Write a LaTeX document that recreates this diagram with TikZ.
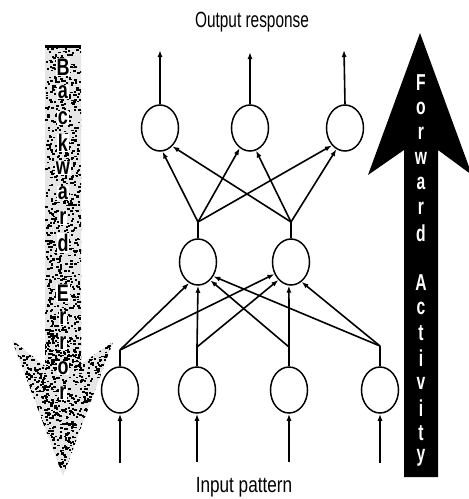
\documentclass[tikz,border=0pt]{standalone}
\usepackage{fontspec}
\setmainfont{Liberation Sans}
\usepackage{graphicx}
\usetikzlibrary{shapes.geometric,arrows.meta}
\begin{document}
\begin{tikzpicture}[x=1pt,y=-1pt,
  neuron/.style={ellipse,draw,line width=1.5pt,minimum width=37pt,minimum height=46pt,inner sep=0pt},
  link/.style={line width=1.6pt},
  arr/.style={line width=1.6pt,-{Latex[length=7pt,width=5pt]}},
  fwd/.style={text=white,font=\bfseries\fontsize{23}{23}\selectfont,inner sep=0pt},
  bwd/.style={text=black,font=\bfseries\fontsize{24}{24}\selectfont,inner sep=0.8pt,fill=white},
  lbl/.style={font=\fontsize{22}{22}\selectfont,inner sep=0pt}
]
\useasboundingbox (0,0) rectangle (469,499);

% Backward Error arrow (speckled)
\begin{scope}
  \clip (45,45) -- (81,45) -- (81,364) -- (113,342) -- (63,476) -- (12,340) -- (45,366) -- cycle;
  \fill[gray!20] (0,0) rectangle (469,499);
  \pgfmathsetseed{7}
  \foreach \i in {1,...,850}{
    \pgfmathsetmacro\px{45+36*rnd}\pgfmathsetmacro\py{45+325*rnd}
    \fill (\px,\py) rectangle ++(2.4,1.8);}
  \foreach \i in {1,...,1200}{
    \pgfmathsetmacro\px{12+101*rnd}\pgfmathsetmacro\py{335+141*rnd}
    \fill (\px,\py) rectangle ++(2.4,1.8);}
  \fill (45,45) rectangle (81,48);
\end{scope}
\foreach \l/\yy [count=\k] in {B/67,a/92,c/118,k/143,w/168,a/193,r/218,d/243,E/293,r/318,r/343,o/368,r/393}
  \node[bwd] (b\k) at (63,\yy) {\scalebox{0.75}[1]{\l}};

% Forward Activity arrow (black)
\begin{scope}
  \clip (0,0) rectangle (469,499);
  \fill (420,33) -- (472,175) -- (438,150) -- (438,477) -- (404,477) -- (404,150) -- (368,175) -- cycle;
\end{scope}
\foreach \l/\yy [count=\k] in {F/83,o/108,r/133,w/158,a/183,r/208,d/233,A/283,c/308,t/333,i/358,v/383,i/408,t/433,y/458}
  \node[fwd] (f\k) at (421,\yy) {\scalebox{0.68}[1]{\l}};

% neurons
\node[neuron] (o1) at (160,128) {};
\node[neuron] (o2) at (250,128) {};
\node[neuron] (o3) at (345,128) {};
\node[neuron] (h1) at (198,262) {};
\node[neuron] (h2) at (291,262) {};
\node[neuron] (i1) at (120,390) {};
\node[neuron] (i2) at (197,390) {};
\node[neuron] (i3) at (289,390) {};
\node[neuron] (i4) at (380,390) {};

% coordinates
\coordinate (ot1) at (160,50);
\coordinate (ot2) at (250,52);
\coordinate (ot3) at (344,50);
\coordinate (ib1) at (120,463);
\coordinate (ib2) at (197,462);
\coordinate (ib3) at (289,462);
\coordinate (ib4) at (380,463);
\coordinate (bh1) at (198,222);
\coordinate (bh2) at (291,222);
\coordinate (bi1) at (120,350);
\coordinate (bi2) at (197,347);
\coordinate (bi3) at (289,347);
\coordinate (bi4) at (380,346);

% output arrows
\draw[arr] (o1.north) -- (ot1);
\draw[arr] (o2.north) -- (ot2);
\draw[arr] (o3.north) -- (ot3);

% hidden to output
\draw[link] (h1.north) -- (bh1);
\draw[link] (h2.north) -- (bh2);
\draw[arr] (bh1) -- (o1.-84);
\draw[arr] (bh2) -- (o1.-56);
\draw[arr] (bh1) -- (o2.-117);
\draw[arr] (bh2) -- (o2.-75);
\draw[arr] (bh1) -- (o3.-127);
\draw[arr] (bh2) -- (o3.-112);

% input to hidden
\draw[link] (i1.north) -- (bi1);
\draw[link] (i2.north) -- (bi2);
\draw[link] (i3.north) -- (bi3);
\draw[link] (i4.north) -- (bi4);
\draw[arr] (bi1) -- (h1.-113);
\draw[arr] (bi2) -- (h1.-90);
\draw[arr] (bi3) -- (h1.-56);
\draw[arr] (bi4) -- (h1.-43);
\draw[arr] (bi1) -- (h2.-144);
\draw[arr] (bi2) -- (h2.-125);
\draw[arr] (bi3) -- (h2.-95);
\draw[arr] (bi4) -- (h2.-62);

% input arrows
\draw[arr] (ib1) -- (i1.south);
\draw[arr] (ib2) -- (i2.south);
\draw[arr] (ib3) -- (i3.south);
\draw[arr] (ib4) -- (i4.south);

% labels
\node[lbl] (outlbl) at (252,22) {\scalebox{0.70}[1]{Output response}};
\node[lbl] (inlbl) at (244,487) {\scalebox{0.78}[1]{Input pattern}};
\end{tikzpicture}
\end{document}
